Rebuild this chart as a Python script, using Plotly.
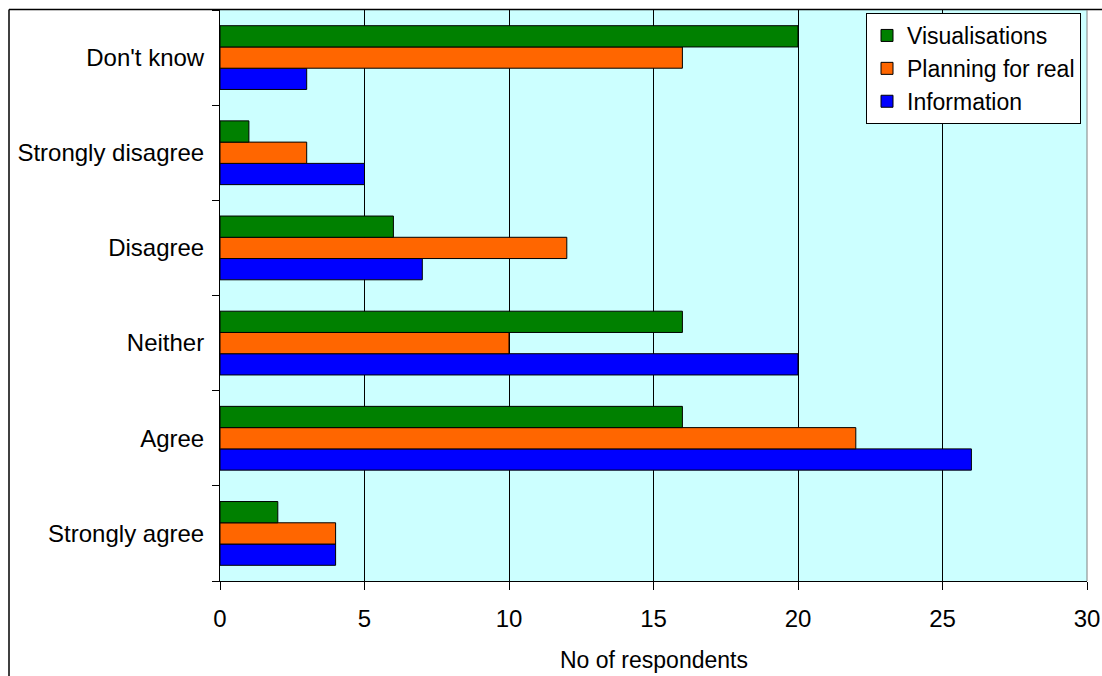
import plotly.graph_objects as go

categories = ["Strongly agree", "Agree", "Neither", "Disagree", "Strongly disagree", "Don't know"]
information = [4, 26, 20, 7, 5, 3]
planning = [4, 22, 10, 12, 3, 16]
visualisations = [2, 16, 16, 6, 1, 20]
x_ticks = [0, 5, 10, 15, 20, 25, 30]

W, H = 1102, 676
L, T = 220, 10
R = W - 1087
B = H - 581
pw = W - L - R
ph = H - T - B

fig = go.Figure()
for name, vals, col in [("Information", information, "#0000FF"),
                        ("Planning for real", planning, "#FF6600"),
                        ("Visualisations", visualisations, "#008000")]:
    fig.add_trace(go.Bar(y=categories, x=vals, name=name, orientation="h",
                         marker=dict(color=col, line=dict(color="black", width=1))))

fig.update_layout(
    width=W, height=H,
    margin=dict(l=L, r=R, t=T, b=B, autoexpand=False),
    paper_bgcolor="white", plot_bgcolor="#CCFFFF",
    font=dict(family="Liberation Sans, Arial, sans-serif", size=24, color="black"),
    barmode="group", bargap=0.33, bargroupgap=0,
    legend=dict(traceorder="reversed", x=(866 - L) / pw, y=1 - (13 - T) / ph,
                xanchor="left", yanchor="top", bgcolor="white",
                bordercolor="black", borderwidth=1, font=dict(size=23)),
    showlegend=True,
)
fig.update_xaxes(range=[0, 30], tickvals=x_ticks, showgrid=True, gridcolor="black",
                 gridwidth=1, showline=True, linecolor="black", ticks="outside",
                 ticklen=8, tickcolor="black", zeroline=False, automargin=False,
                 ticklabelstandoff=8)
fig.update_yaxes(categoryorder="array", categoryarray=categories, showline=True,
                 linecolor="black", ticks="outside", ticklen=7, tickcolor="black",
                 tickson="boundaries", showgrid=False, ticklabelstandoff=10,
                 automargin=False)

fig.add_annotation(text="No of respondents", xref="paper", yref="paper", x=0.5,
                   y=-(660 - 581) / ph, xanchor="center", yanchor="middle",
                   showarrow=False, font=dict(size=23))

# outer chart frame (left and top edges)
fy = 1 + 0.5 / ph
fx = (9 - L) / pw
fig.add_shape(type="line", xref="paper", yref="paper", x0=fx, x1=1.1,
              y0=fy, y1=fy, line=dict(color="black", width=1.5))
fig.add_shape(type="line", xref="paper", yref="paper", x0=fx, x1=fx,
              y0=-0.3, y1=fy, line=dict(color="black", width=1.5))
# right edge of plot area
fig.add_shape(type="line", xref="paper", yref="paper", x0=1, x1=1, y0=0, y1=1,
              line=dict(color="#808080", width=1))

fig.write_html("out.html", config={"displayModeBar": False},
               post_script="document.body.style.margin='0px';document.body.style.overflow='hidden';")
